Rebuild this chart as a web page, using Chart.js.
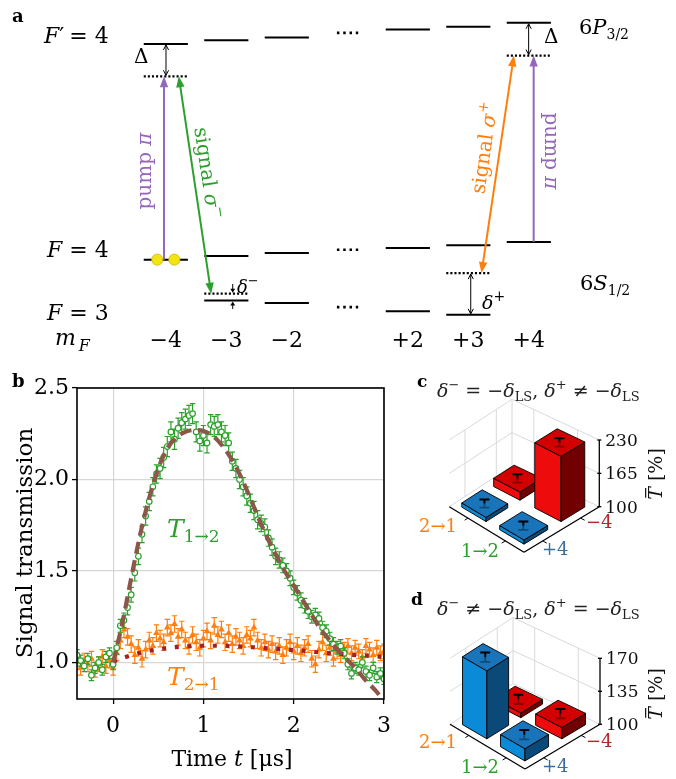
<!DOCTYPE html>
<html><head><meta charset="utf-8">
<script src="https://cdn.jsdelivr.net/npm/chart.js@4.4.1/dist/chart.umd.min.js"></script>
<style>
html,body{margin:0;padding:0;background:#fff;}
#wrap{position:relative;width:676px;height:779px;overflow:hidden;background:#fff;}
canvas{position:absolute;}
</style></head><body>
<div id="wrap">
<canvas id="ca" width="676" height="355" style="left:0;top:0"></canvas>
<canvas id="cb" width="400" height="424" style="left:0;top:355px"></canvas>
<canvas id="cc" width="276" height="210" style="left:400px;top:360px"></canvas>
<canvas id="cd" width="276" height="209" style="left:400px;top:570px"></canvas>
</div>
<script>
// ================= DATA =================
// Panel a: level scheme (energies in arbitrary units)
const mFCategories = ['−4','−3','−2','⋯','+2','+3','+4'];
const levelExcitedF4 = [316, 320, 322.7, null, 331, 334, 338];
const levelGroundF4  = [92.3, 96, 99.3, null, 104.3, 107.3, 110.7];
const levelGroundF3  = [null, 50, 47.3, null, 38.7, 35, null];
const ellipsisE      = [327.5, 102.5, 43];
const virtualSlot    = [0, 6, 1, 5];
const virtualE       = [282.5, 304, 57, 78.3];
const atomSlot       = [-0.141, 0.141];

// Panel b: signal transmission vs time
const timeUs = [-0.40,-0.36,-0.32,-0.28,-0.24,-0.20,-0.16,-0.12,-0.08,-0.04,
 0.00,0.04,0.08,0.12,0.16,0.20,0.24,0.28,0.32,0.36,0.40,0.44,0.48,0.52,0.56,0.60,0.64,0.68,0.72,0.76,
 0.80,0.84,0.88,0.92,0.96,1.00,1.04,1.08,1.12,1.16,1.20,1.24,1.28,1.32,1.36,1.40,1.44,1.48,1.52,1.56,
 1.60,1.64,1.68,1.72,1.76,1.80,1.84,1.88,1.92,1.96,2.00,2.04,2.08,2.12,2.16,2.20,2.24,2.28,2.32,2.36,
 2.40,2.44,2.48,2.52,2.56,2.60,2.64,2.68,2.72,2.76,2.80,2.84,2.88,2.92,2.96,3.00];
const transT12 = [1.04,1.01,0.98,1.02,0.93,0.97,1.00,0.96,1.03,1.05,
 0.99,1.08,1.20,1.23,1.30,1.37,1.49,1.58,1.70,1.80,1.88,1.96,2.03,2.06,2.12,2.18,2.26,2.22,2.28,2.31,
 2.33,2.35,2.36,2.26,2.21,2.24,2.20,2.30,2.29,2.30,2.26,2.24,2.20,2.10,2.06,2.00,1.96,1.91,1.87,1.83,
 1.78,1.76,1.74,1.68,1.63,1.58,1.56,1.53,1.50,1.46,1.41,1.38,1.34,1.31,1.28,1.25,1.26,1.24,1.19,1.17,
 1.13,1.10,1.08,1.09,1.05,0.99,0.94,0.97,0.96,1.00,0.95,0.93,0.97,0.92,0.94,0.91];
const errT12 = [0.03,0.03,0.03,0.03,0.03,0.03,0.03,0.03,0.03,0.03,
 0.03,0.035,0.035,0.04,0.04,0.04,0.045,0.045,0.045,0.05,0.05,0.05,0.05,0.055,0.055,0.055,0.055,0.055,0.055,0.055,
 0.055,0.055,0.055,0.055,0.055,0.055,0.055,0.055,0.055,0.055,0.055,0.055,0.055,0.05,0.05,0.05,0.05,0.05,0.05,0.05,
 0.05,0.045,0.045,0.045,0.045,0.045,0.045,0.04,0.04,0.04,0.04,0.04,0.04,0.04,0.04,0.035,0.035,0.035,0.035,0.035,
 0.035,0.035,0.035,0.035,0.03,0.03,0.03,0.03,0.03,0.03,0.03,0.03,0.03,0.03,0.03,0.03];
const transT21 = [1.00,0.97,1.01,0.99,1.02,0.96,0.99,1.03,0.98,1.01,
 0.97,1.05,1.12,1.18,1.14,1.10,1.04,1.08,1.02,1.07,1.12,1.09,1.16,1.13,1.11,1.19,1.16,1.21,1.14,1.18,
 1.12,1.09,1.15,1.11,1.08,1.13,1.17,1.12,1.20,1.15,1.18,1.11,1.16,1.10,1.14,1.12,1.09,1.15,1.13,1.19,
 1.12,1.08,1.11,1.07,1.10,1.06,1.09,1.04,1.08,1.11,1.06,1.09,1.05,1.08,1.10,1.02,0.99,1.07,1.11,1.05,
 1.08,1.02,1.06,1.04,1.07,1.09,1.05,1.08,1.06,1.03,1.09,1.07,1.04,1.08,1.05,1.06];
const errT21 = [0.04,0.04,0.04,0.04,0.04,0.04,0.04,0.04,0.04,0.04,
 0.04,0.04,0.045,0.045,0.045,0.045,0.045,0.045,0.045,0.045,0.045,0.045,0.045,0.045,0.045,0.045,0.045,0.045,0.045,0.045,
 0.045,0.045,0.045,0.045,0.045,0.045,0.045,0.045,0.045,0.045,0.045,0.045,0.045,0.045,0.045,0.045,0.045,0.045,0.045,0.045,
 0.045,0.045,0.045,0.045,0.045,0.045,0.045,0.045,0.045,0.045,0.045,0.045,0.045,0.045,0.045,0.045,0.045,0.045,0.045,0.045,
 0.04,0.04,0.04,0.04,0.04,0.04,0.04,0.04,0.04,0.04,0.04,0.04,0.04,0.04,0.04,0.04];
const fitTimeUs12 = [0.0,0.1,0.2,0.3,0.4,0.5,0.6,0.7,0.8,0.9,1.0,1.1,1.2,1.3,1.4,1.5,1.6,1.7,1.8,1.9,2.0,2.1,2.2,2.3,2.4,2.5,2.6,2.7,2.8,2.9,3.0];
const fitT12 = [1.00,1.21,1.46,1.70,1.90,2.06,2.17,2.23,2.26,2.27,2.265,2.24,2.19,2.12,2.03,1.92,1.80,1.69,1.59,1.50,1.42,1.34,1.26,1.18,1.12,1.06,1.01,0.96,0.90,0.85,0.79];
const fitTimeUs21 = [0.0,0.14,0.28,0.42,0.56,0.70,0.84,0.98,1.12,1.26,1.40,1.54,1.68,1.82,1.96,2.10,2.24,2.38,2.52,2.66,2.80,2.94,3.0];
const fitT21 = [1.005,1.03,1.05,1.065,1.076,1.084,1.088,1.091,1.091,1.090,1.087,1.083,1.078,1.074,1.069,1.064,1.057,1.051,1.046,1.041,1.037,1.032,1.03];
const xTickValues = [0,1,2,3];
const yTickValues = [1.0,1.5,2.0,2.5];

// Panels c, d: mean transmission (%)
const barPath = ['2→1','1→2','2→1','1→2'];
const barPump = ['+4','+4','−4','−4'];
const meanTc = [108, 108, 116, 227];
const errTc  = [8, 8, 8, 8];
const meanTd = [172, 113, 105, 112];
const errTd  = [5, 5, 5, 5];
const zTicksC = [100, 165, 230];
const zTicksD = [100, 135, 170];

// ================= HELPERS =================
const FONT = "'DejaVu Serif', serif";
const purple = '#9467bd', green = '#2ca02c', orange = '#ff7f0e', brown = '#8c564b', darkred = '#a31f24';
Chart.defaults.font.family = FONT;

function fontStr(s){ return `${s.st||'normal'} ${s.w||'normal'} ${s.size}px ${FONT}`; }
const I = (t,size,o={}) => Object.assign({t,size,st:'italic'},o);
const N = (t,size,o={}) => Object.assign({t,size},o);
function rich(ctx, segs, x, y, o={}){
  const align=o.align||'left', rot=o.rot||0, color=o.color||'#000';
  ctx.save(); ctx.translate(x,y); if(rot) ctx.rotate(rot);
  ctx.textBaseline='alphabetic'; ctx.textAlign='left';
  const ws = segs.map(s=>{ctx.font=fontStr(s); return ctx.measureText(s.t).width + (s.kern||0);});
  const tot = ws.reduce((a,b)=>a+b,0);
  let cx = align==='center' ? -tot/2 : (align==='right' ? -tot : 0);
  const cy = o.vc||0;
  segs.forEach((s,i)=>{
    ctx.font=fontStr(s); ctx.fillStyle=s.c||color;
    ctx.fillText(s.t, cx, cy+(s.dy||0));
    if(s.over){ ctx.strokeStyle=s.c||color; ctx.lineWidth=1.2; ctx.beginPath();
      ctx.moveTo(cx+2, cy-s.size*0.86); ctx.lineTo(cx+ws[i]-1, cy-s.size*0.86); ctx.stroke(); }
    cx += ws[i];
  });
  ctx.restore();
}
function arrowHead(ctx, tx, ty, fx, fy, len, hw, color, filled){
  const a = Math.atan2(ty-fy, tx-fx);
  const bx = tx-len*Math.cos(a), by = ty-len*Math.sin(a);
  const px = -Math.sin(a)*hw, py = Math.cos(a)*hw;
  ctx.beginPath();
  if(filled){ ctx.moveTo(tx,ty); ctx.lineTo(bx+px,by+py); ctx.lineTo(bx-px,by-py); ctx.closePath(); ctx.fillStyle=color; ctx.fill(); }
  else { ctx.moveTo(bx+px,by+py); ctx.lineTo(tx,ty); ctx.lineTo(bx-px,by-py); ctx.strokeStyle=color; ctx.stroke(); }
}
function arrow(ctx, x1,y1,x2,y2,o){
  ctx.save(); ctx.strokeStyle=o.color; ctx.lineWidth=o.lw; ctx.setLineDash([]);
  const a=Math.atan2(y2-y1,x2-x1); let sx=x1,sy=y1,ex=x2,ey=y2;
  if(o.filled){ if(o.end){ex-=Math.cos(a)*o.len*0.7; ey-=Math.sin(a)*o.len*0.7;} if(o.start){sx+=Math.cos(a)*o.len*0.7; sy+=Math.sin(a)*o.len*0.7;} }
  ctx.beginPath(); ctx.moveTo(sx,sy); ctx.lineTo(ex,ey); ctx.stroke();
  ctx.lineWidth = o.headLw || o.lw;
  if(o.end) arrowHead(ctx,x2,y2,x1,y1,o.len,o.hw,o.color,o.filled);
  if(o.start) arrowHead(ctx,x1,y1,x2,y2,o.len,o.hw,o.color,o.filled);
  ctx.restore();
}
const baseOpts = (extra) => Object.assign({
  responsive:false, animation:false, devicePixelRatio:1,
  plugins:{legend:{display:false}, tooltip:{enabled:false}},
  events:[]
}, extra);

// ================= PANEL A =================
const LEVEL_HW = 0.365;
const levelPlugin = {
  id:'levels',
  beforeDatasetsDraw(chart){
    const {ctx} = chart; const xs=chart.scales.x, ys=chart.scales.y;
    const X=v=>xs.getPixelForValue(v), Y=v=>ys.getPixelForValue(v);
    ctx.save(); ctx.lineCap='butt';
    ctx.strokeStyle='#000'; ctx.lineWidth=2;
    [levelExcitedF4, levelGroundF4, levelGroundF3].forEach(arr=>arr.forEach((e,i)=>{
      if(e==null) return; ctx.beginPath(); ctx.moveTo(X(i-LEVEL_HW),Y(e)); ctx.lineTo(X(i+LEVEL_HW),Y(e)); ctx.stroke(); }));
    const ell = mFCategories.indexOf('⋯');
    ctx.setLineDash([2.5,3.8]); ctx.lineWidth=2.6;
    ellipsisE.forEach(e=>{ ctx.beginPath(); ctx.moveTo(X(ell-0.172),Y(e)); ctx.lineTo(X(ell+0.18),Y(e)); ctx.stroke(); });
    ctx.setLineDash([2.1,2.0]); ctx.lineWidth=2.2;
    virtualSlot.forEach((s,k)=>{ ctx.beginPath(); ctx.moveTo(X(s-LEVEL_HW),Y(virtualE[k])); ctx.lineTo(X(s+LEVEL_HW),Y(virtualE[k])); ctx.stroke(); });
    ctx.setLineDash([]);
    // laser transitions
    const big = {lw:2, len:11, hw:4.2, filled:true};
    arrow(ctx, X(-0.03),Y(levelGroundF4[0]), X(-0.03),Y(virtualE[0]), Object.assign({color:purple,end:true},big));
    arrow(ctx, X(6.08),Y(levelGroundF4[6]), X(6.08),Y(virtualE[1]), Object.assign({color:purple,end:true},big));
    arrow(ctx, X(0.214),Y(virtualE[0]), X(0.75),Y(virtualE[2]), Object.assign({color:green,end:true,start:true},big));
    arrow(ctx, X(5.753),Y(virtualE[1]), X(5.218),Y(virtualE[3]), Object.assign({color:orange,end:true,start:true},big));
    // detunings
    const sm = {lw:1, len:5, hw:2.6, filled:false, color:'#000', start:true, end:true};
    arrow(ctx, X(0.003),Y(levelExcitedF4[0])+1, X(0.003),Y(virtualE[0])-1, sm);
    arrow(ctx, X(5.997),Y(levelExcitedF4[6])+1, X(5.997),Y(virtualE[1])-1, sm);
    arrow(ctx, X(5.04),Y(virtualE[3])+1, X(5.04),Y(levelGroundF3[5])-1, sm);
    const tiny = {lw:1, len:4, hw:2.4, filled:true, color:'#000', end:true};
    arrow(ctx, X(1.106),Y(67), X(1.106),Y(virtualE[2])-1, tiny);
    arrow(ctx, X(1.106),Y(41), X(1.106),Y(levelGroundF3[1])+1, tiny);
    ctx.restore();
  },
  afterDatasetsDraw(chart){
    const {ctx} = chart; const xs=chart.scales.x;
    ctx.save();
    rich(ctx,[N('a',18,{w:'bold'})],12,22);
    rich(ctx,[I('F',22),N('′',22,{kern:-2}),N(' = 4',22)],44,43);
    rich(ctx,[I('F',22),N(' = 4',22)],47,257);
    rich(ctx,[I('F',22),N(' = 3',22)],47,320);
    rich(ctx,[I('m',22,{kern:3}),I('F',16,{dy:6})],55,345);
    mFCategories.forEach((c,i)=>{ if(c==='⋯') return; rich(ctx,[N(c,22)], xs.getPixelForValue(i), 347, {align:'center'}); });
    rich(ctx,[N('6',21),I('P',21),N('3/2',14,{dy:5})],579,34);
    rich(ctx,[N('6',21),I('S',21),N('1/2',14,{dy:5})],580,290);
    rich(ctx,[N('Δ',20)],134,63);
    rich(ctx,[N('Δ',20)],544,43);
    rich(ctx,[I('δ',18),N('−',13,{dy:-8})],237,293);
    rich(ctx,[I('δ',19),N('+',14,{dy:-8})],482,309);
    rich(ctx,[N('pump ',20),I('π',20)],145,171,{rot:-Math.PI/2,align:'center',vc:6,color:purple});
    rich(ctx,[N('pump ',20),I('π',20)],551,151,{rot:Math.PI/2,align:'center',vc:6,color:purple});
    rich(ctx,[N('signal ',20),I('σ',20),N('−',14,{dy:-9})],207,173,{rot:Math.atan2(224,33),align:'center',vc:6,color:green});
    rich(ctx,[N('signal ',20),I('σ',20),N('+',14,{dy:-9})],485,148,{rot:Math.atan2(-226,33),align:'center',vc:6,color:orange});
    ctx.restore();
  }
};
new Chart(document.getElementById('ca'), {
  type:'scatter',
  data:{ datasets:[{ data: atomSlot.map(s=>({x:s, y:levelGroundF4[0]})), pointRadius:5.6, pointStyle:'circle',
    backgroundColor:'#f2e313', borderColor:'#cdb90a', borderWidth:0.8 }]},
  options: baseOpts({ layout:{padding:0},
    scales:{ x:{type:'linear',display:false,min:-2.635,max:8.327}, y:{type:'linear',display:false,min:0,max:355} } }),
  plugins:[levelPlugin]
});

// ================= PANEL B =================
const errorBarPlugin = {
  id:'errbars',
  beforeDatasetDraw(chart, args){
    const ds = chart.data.datasets[args.index]; if(!ds.errors) return;
    const {ctx, chartArea:ca} = chart; const xs=chart.scales.x, ys=chart.scales.y;
    ctx.save(); ctx.beginPath(); ctx.rect(ca.left,ca.top,ca.right-ca.left,ca.bottom-ca.top); ctx.clip();
    ctx.strokeStyle=ds.errColor; ctx.lineWidth=1.2;
    ds.data.forEach((p,i)=>{
      const x=xs.getPixelForValue(p.x), y1=ys.getPixelForValue(p.y-ds.errors[i]), y2=ys.getPixelForValue(p.y+ds.errors[i]);
      ctx.beginPath(); ctx.moveTo(x,y1); ctx.lineTo(x,y2);
      ctx.moveTo(x-2.7,y1); ctx.lineTo(x+2.7,y1); ctx.moveTo(x-2.7,y2); ctx.lineTo(x+2.7,y2); ctx.stroke();
    });
    ctx.restore();
  }
};
const frameBPlugin = {
  id:'frameB',
  afterDatasetsDraw(chart){
    const {ctx, chartArea:ca} = chart;
    ctx.save(); ctx.strokeStyle='#000'; ctx.lineWidth=1.6;
    ctx.strokeRect(ca.left, ca.top, ca.right-ca.left, ca.bottom-ca.top);
    rich(ctx,[I('T',25),N('1→2',17,{dy:5})],167,182,{color:green});
    rich(ctx,[I('T',25),N('2→1',17,{dy:5})],167,330,{color:orange});
    ctx.restore();
  },
  afterDraw(chart){
    const {ctx} = chart;
    rich(ctx,[N('b',18,{w:'bold'})],12,32);
    rich(ctx,[N('Time ',22),I('t',22),N(' [μs]',22)],232,411,{align:'center'});
    rich(ctx,[N('Signal transmission',23)],32,188,{rot:-Math.PI/2,align:'center'});
  }
};
const tickFont = {family:FONT, size:22};
new Chart(document.getElementById('cb'), {
  type:'scatter',
  data:{ datasets:[
    { data: fitTimeUs12.map((t,i)=>({x:t,y:fitT12[i]})), showLine:true, borderColor:brown, borderWidth:4.2,
      borderDash:[12,6.5], borderCapStyle:'butt', pointRadius:0, cubicInterpolationMode:'monotone', order:0 },
    { data: fitTimeUs21.map((t,i)=>({x:t,y:fitT21[i]})), showLine:true, borderColor:darkred, borderWidth:4.2,
      borderDash:[4,8.7], borderCapStyle:'butt', pointRadius:0, cubicInterpolationMode:'monotone', order:1 },
    { data: timeUs.map((t,i)=>({x:t,y:transT12[i]})), errors:errT12, errColor:green, showLine:false,
      pointStyle:'circle', pointRadius:2.8, borderWidth:1.2, borderColor:green, backgroundColor:'#fff', order:2 },
    { data: timeUs.map((t,i)=>({x:t,y:transT21[i]})), errors:errT21, errColor:orange, showLine:false,
      pointStyle:'triangle', pointRadius:3.9, borderWidth:0, borderColor:orange, backgroundColor:orange, order:3 }
  ]},
  options: baseOpts({
    layout:{padding:{top:33,right:12,left:0,bottom:0}},
    scales:{
      x:{ type:'linear', min:-0.4, max:3,
        afterBuildTicks:s=>{ s.ticks = xTickValues.map(v=>({value:v})); },
        afterFit:s=>{ s.height = 80; },
        grid:{color:'#d6d6d6', lineWidth:1.2, tickColor:'#000', tickLength:5, tickWidth:1.3, drawTicks:true},
        border:{display:false},
        ticks:{font:tickFont, color:'#000', padding:9, maxRotation:0, callback:v=>String(v)} },
      y:{ type:'linear', min:0.8, max:2.5,
        afterBuildTicks:s=>{ s.ticks = yTickValues.map(v=>({value:v})); },
        afterFit:s=>{ s.width = 77; },
        grid:{color:'#d6d6d6', lineWidth:1.2, tickColor:'#000', tickLength:5, tickWidth:1.3, drawTicks:true},
        border:{display:false},
        ticks:{font:tickFont, color:'#000', padding:3, callback:v=>Number(v).toFixed(1)} }
    }
  }),
  plugins:[errorBarPlugin, frameBPlugin]
});

// ================= PANELS C, D =================
const pathU = {'1→2':0.25, '2→1':0.75};
const pumpV = {'+4':0.25, '−4':0.75};
const BAR_HW = 0.16;
const colRed  = {top:'#d20000', left:'#ee0b0b', right:'#720000'};
const colBlue = {top:'#1a74b9', left:'#0b8ad8', right:'#0b4a78'};
function makeScene(geom, vals, errs, zTicks, txt){
  return {
    id:'scene',
    afterDatasetsDraw(chart){
      const {ctx} = chart; const xs=chart.scales.x, ys=chart.scales.y;
      const P=(u,v,z)=>{ const a=(1-u)*(1-v), b=u*(1-v), c=(1-u)*v, d=u*v;
        const X=a*geom.F[0]+b*geom.L[0]+c*geom.R[0]+d*geom.B[0];
        const Y=a*geom.F[1]+b*geom.L[1]+c*geom.R[1]+d*geom.B[1] - (z-geom.zMin)/(geom.zMax-geom.zMin)*geom.zPx;
        return [xs.getPixelForValue(X), ys.getPixelForValue(Y)]; };
      const line=(p,q)=>{ ctx.beginPath(); ctx.moveTo(p[0],p[1]); ctx.lineTo(q[0],q[1]); ctx.stroke(); };
      const zMin=geom.zMin, zMax=geom.zMax;
      ctx.save();
      // back panes grid
      ctx.strokeStyle='#d9d9d9'; ctx.lineWidth=1;
      zTicks.forEach(z=>{ line(P(1,0,z),P(1,1,z)); line(P(1,1,z),P(0,1,z)); });
      [0.25,0.75,1].forEach(v=>line(P(1,v,zMin),P(1,v,zMax)));
      [0.25,0.75].forEach(u=>line(P(u,1,zMin),P(u,1,zMax)));
      // front axes
      ctx.strokeStyle='#000'; ctx.lineWidth=1.3;
      line(P(1,0,zMin),P(0,0,zMin)); line(P(0,0,zMin),P(0,1,zMin));
      ctx.lineWidth=1;
      [0.25,0.75].forEach(u=>line(P(u,0,zMin),P(u,-0.05,zMin)));
      [0.25,0.75].forEach(v=>line(P(0,v,zMin),P(-0.05,v,zMin)));
      // z axis
      ctx.lineWidth=1.3; line(P(0,1,zMin),P(0,1,zMax));
      zTicks.forEach(z=>{ const p=P(0,1,z); ctx.beginPath(); ctx.moveTo(p[0]-2,p[1]); ctx.lineTo(p[0]+2,p[1]); ctx.stroke();
        rich(ctx,[N(String(z),17)],p[0]+6,p[1]+6,{color:'#111'}); });
      // bars back-to-front
      const idx = vals.map((v,i)=>i).sort((a,b)=>(pathU[barPath[b]]+pumpV[barPump[b]])-(pathU[barPath[a]]+pumpV[barPump[a]]));
      idx.forEach(i=>{
        const uc=pathU[barPath[i]], vc=pumpV[barPump[i]], z=vals[i];
        const col = barPump[i]==='−4' ? colRed : colBlue;
        const u0=uc-BAR_HW,u1=uc+BAR_HW,v0=vc-BAR_HW,v1=vc+BAR_HW;
        const poly=(pts,fill)=>{ ctx.beginPath(); ctx.moveTo(pts[0][0],pts[0][1]); pts.slice(1).forEach(p=>ctx.lineTo(p[0],p[1])); ctx.closePath();
          ctx.fillStyle=fill; ctx.fill(); ctx.strokeStyle='#000'; ctx.lineWidth=0.9; ctx.stroke(); };
        poly([P(u0,v0,zMin),P(u1,v0,zMin),P(u1,v0,z),P(u0,v0,z)], col.left);
        poly([P(u0,v0,zMin),P(u0,v1,zMin),P(u0,v1,z),P(u0,v0,z)], col.right);
        poly([P(u0,v0,z),P(u1,v0,z),P(u1,v1,z),P(u0,v1,z)], col.top);
        const c=P(uc,vc,z), up=P(uc,vc,z+errs[i]), lo=P(uc,vc,z-errs[i]);
        ctx.strokeStyle='rgba(0,0,0,0.35)'; ctx.lineWidth=1.8;
        ctx.beginPath(); ctx.moveTo(c[0],c[1]); ctx.lineTo(lo[0],lo[1]); ctx.moveTo(lo[0]-5,lo[1]); ctx.lineTo(lo[0]+5,lo[1]); ctx.stroke();
        ctx.strokeStyle='#000'; ctx.lineWidth=2;
        ctx.beginPath(); ctx.moveTo(c[0],c[1]); ctx.lineTo(up[0],up[1]); ctx.moveTo(up[0]-5,up[1]); ctx.lineTo(up[0]+5,up[1]); ctx.stroke();
      });
      // labels
      rich(ctx,[N(txt.letter,17,{w:'bold'})],txt.letterPos[0],txt.letterPos[1]);
      rich(ctx,txt.title,txt.titlePos[0],txt.titlePos[1],{color:'#222'});
      rich(ctx,[N('2→1',18)],txt.l21[0],txt.l21[1],{color:orange});
      rich(ctx,[N('1→2',18)],txt.l12[0],txt.l12[1],{color:green});
      rich(ctx,[N('−4',18)],txt.lm4[0],txt.lm4[1],{color:'#b9262a'});
      rich(ctx,[N('+4',18)],txt.lp4[0],txt.lp4[1],{color:'#3c6e9c'});
      rich(ctx,[I('T',19,{over:true}),N(' [%]',19)],txt.zl[0],txt.zl[1],{rot:-Math.PI/2,align:'center',color:'#111'});
      ctx.restore();
    }
  };
}
const titleC = [I('δ',19),N('−',13,{dy:-8}),N(' = −',19),I('δ',19),N('LS',13,{dy:4}),N(', ',19),I('δ',19),N('+',13,{dy:-8}),N(' ≠ −',19),I('δ',19),N('LS',13,{dy:4})];
const titleD = [I('δ',19),N('−',13,{dy:-8}),N(' ≠ −',19),I('δ',19),N('LS',13,{dy:4}),N(', ',19),I('δ',19),N('+',13,{dy:-8}),N(' = −',19),I('δ',19),N('LS',13,{dy:4})];
const sceneOpts = (w,h)=>baseOpts({ layout:{padding:0},
  scales:{ x:{type:'linear',display:false,min:0,max:w}, y:{type:'linear',display:false,min:0,max:h,reverse:true} } });
new Chart(document.getElementById('cc'), {
  type:'scatter', data:{datasets:[{data:[]}]}, options: sceneOpts(276,210),
  plugins:[makeScene({F:[124,192.3],L:[49.3,146.7],R:[199.3,146.7],B:[112,106],zMin:100,zMax:230,zPx:66.7},
    meanTc, errTc, zTicksC,
    {letter:'c',letterPos:[17,27],title:titleC,titlePos:[37,37],l21:[19,172],l12:[61,197],lm4:[186,168],lp4:[142,195],zl:[262,114]})]
});
new Chart(document.getElementById('cd'), {
  type:'scatter', data:{datasets:[{data:[]}]}, options: sceneOpts(276,209),
  plugins:[makeScene({F:[125,199],L:[50,154.3],R:[200,154.3],B:[113,113.6],zMin:100,zMax:170,zPx:66},
    meanTd, errTd, zTicksD,
    {letter:'d',letterPos:[11,35],title:titleD,titlePos:[37,45],l21:[19,178],l12:[61,203],lm4:[186,177],lp4:[142,202],zl:[262,124]})]
});
</script>
</body></html>
